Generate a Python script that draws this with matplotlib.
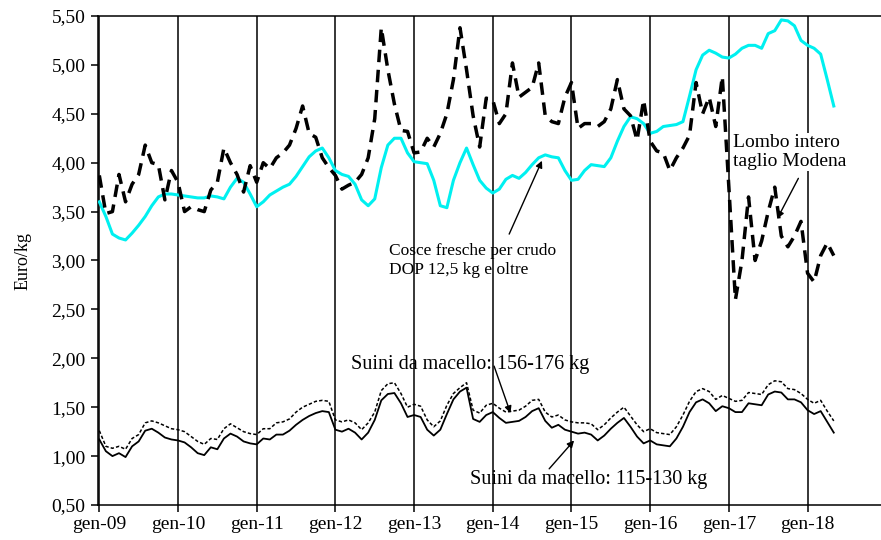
import numpy as np
import matplotlib
matplotlib.use("Agg")
import matplotlib.pyplot as plt
from matplotlib.ticker import FuncFormatter

plt.rcParams['font.family'] = ['Liberation Serif', 'DejaVu Serif']

# monthly prices, gen-09 .. mag-18 (Euro/kg)
lombo = [3.87, 3.48, 3.50, 3.88, 3.60, 3.78, 3.88, 4.18, 4.00, 3.98, 3.62, 3.92,
         3.80, 3.50, 3.55, 3.52, 3.50, 3.72, 3.80, 4.15, 4.00, 3.88, 3.70, 3.97,
         3.80, 4.00, 3.94, 4.05, 4.10, 4.18, 4.35, 4.58, 4.30, 4.26, 4.05, 3.95,
         3.87, 3.73, 3.77, 3.80, 3.88, 4.05, 4.45, 5.38, 4.95, 4.60, 4.33, 4.32,
         4.10, 4.11, 4.25, 4.16, 4.30, 4.50, 4.85, 5.38, 4.95, 4.48, 4.16, 4.66,
         4.64, 4.40, 4.50, 5.02, 4.67, 4.72, 4.77, 5.02, 4.48, 4.42, 4.40, 4.67,
         4.82, 4.35, 4.40, 4.40, 4.37, 4.42, 4.55, 4.85, 4.55, 4.48, 4.23, 4.64,
         4.22, 4.12, 4.10, 3.92, 4.05, 4.15, 4.28, 4.82, 4.50, 4.67, 4.37, 4.88,
         3.75, 2.60, 3.00, 3.65, 3.00, 3.20, 3.50, 3.75, 3.25, 3.14, 3.25, 3.40,
         2.87, 2.78, 3.05, 3.18, 3.05]

cosce = [3.60, 3.45, 3.27, 3.23, 3.21, 3.28, 3.36, 3.45, 3.56, 3.65, 3.68, 3.68,
         3.67, 3.66, 3.65, 3.64, 3.64, 3.66, 3.65, 3.63, 3.75, 3.84, 3.80, 3.68,
         3.55, 3.60, 3.67, 3.71, 3.75, 3.78, 3.86, 3.96, 4.06, 4.12, 4.15, 4.05,
         3.92, 3.88, 3.86, 3.78, 3.62, 3.56, 3.63, 3.95, 4.18, 4.25, 4.25, 4.10,
         4.01, 4.00, 3.99, 3.82, 3.56, 3.54, 3.82, 4.00, 4.15, 3.98, 3.82, 3.74,
         3.69, 3.73, 3.83, 3.87, 3.84, 3.90, 3.98, 4.05, 4.08, 4.06, 4.05, 3.92,
         3.82, 3.83, 3.92, 3.98, 3.97, 3.96, 4.05, 4.22, 4.37, 4.47, 4.45, 4.40,
         4.30, 4.32, 4.37, 4.38, 4.39, 4.42, 4.68, 4.95, 5.10, 5.15, 5.12, 5.08,
         5.07, 5.11, 5.17, 5.20, 5.20, 5.17, 5.32, 5.35, 5.46, 5.45, 5.40, 5.25,
         5.20, 5.17, 5.11, 4.85, 4.58]

suini_156 = [1.26, 1.10, 1.08, 1.10, 1.07, 1.18, 1.22, 1.34, 1.36, 1.34, 1.31, 1.28,
             1.27, 1.25, 1.20, 1.15, 1.12, 1.18, 1.17, 1.28, 1.33, 1.29, 1.25, 1.23,
             1.22, 1.28, 1.28, 1.34, 1.35, 1.38, 1.45, 1.50, 1.53, 1.56, 1.57, 1.56,
             1.37, 1.35, 1.37, 1.34, 1.27, 1.34, 1.45, 1.67, 1.74, 1.75, 1.64, 1.50,
             1.53, 1.51, 1.37, 1.30, 1.36, 1.52, 1.64, 1.70, 1.75, 1.47, 1.44, 1.52,
             1.54, 1.49, 1.45, 1.46, 1.47, 1.51, 1.57, 1.58, 1.45, 1.40, 1.42, 1.37,
             1.35, 1.34, 1.34, 1.33, 1.27, 1.32, 1.39, 1.45, 1.50, 1.41, 1.32, 1.25,
             1.28, 1.24, 1.23, 1.22, 1.30, 1.42, 1.56, 1.66, 1.69, 1.66, 1.58, 1.62,
             1.59, 1.56, 1.57, 1.65, 1.64, 1.63, 1.73, 1.77, 1.76, 1.69, 1.68, 1.64,
             1.58, 1.54, 1.57, 1.46, 1.36]

suini_115 = [1.17, 1.05, 1.00, 1.03, 0.99, 1.10, 1.15, 1.26, 1.28, 1.24, 1.19, 1.17,
             1.16, 1.14, 1.09, 1.03, 1.01, 1.09, 1.07, 1.18, 1.23, 1.20, 1.15, 1.13,
             1.12, 1.18, 1.17, 1.22, 1.22, 1.26, 1.32, 1.37, 1.41, 1.44, 1.46, 1.45,
             1.27, 1.25, 1.28, 1.24, 1.17, 1.24, 1.37, 1.57, 1.635, 1.645, 1.54, 1.40,
             1.42, 1.40, 1.27, 1.21, 1.27, 1.43, 1.58, 1.66, 1.70, 1.38, 1.35, 1.42,
             1.45, 1.39, 1.34, 1.35, 1.36, 1.40, 1.46, 1.49, 1.36, 1.29, 1.32, 1.27,
             1.25, 1.23, 1.24, 1.22, 1.16, 1.21, 1.28, 1.34, 1.39, 1.30, 1.20, 1.13,
             1.16, 1.12, 1.11, 1.10, 1.18, 1.30, 1.45, 1.55, 1.58, 1.54, 1.46, 1.51,
             1.49, 1.45, 1.45, 1.54, 1.53, 1.52, 1.63, 1.66, 1.65, 1.58, 1.58, 1.55,
             1.47, 1.43, 1.46, 1.35, 1.24]

year_labels = ['gen-09', 'gen-10', 'gen-11', 'gen-12', 'gen-13',
               'gen-14', 'gen-15', 'gen-16', 'gen-17', 'gen-18']

months = np.arange(len(cosce))
year_pos = np.arange(len(year_labels)) * 12

fig = plt.figure(figsize=(8.81, 5.40), dpi=100)
ax = fig.add_axes([98 / 881, 35 / 540, 1 - 98 / 881, 489 / 540])

# vertical lines at each January
for xp in year_pos:
    ax.axvline(xp, color='black', lw=1.1, zorder=1)

ax.plot(months, cosce, color='#00F0F0', lw=2.2, zorder=3)
ax.plot(months, lombo, color='black', lw=2.5, dashes=(3.6, 2.2), zorder=4)
ax.plot(months, suini_156, color='black', lw=1.1, dashes=(2.2, 1.4), zorder=4)
ax.plot(months, suini_115, color='black', lw=1.3, zorder=4)

ax.set_xlim(-0.2, 119.2)
ax.set_ylim(0.5, 5.5)
ax.set_yticks(np.arange(0.5, 5.51, 0.5))
ax.yaxis.set_major_formatter(FuncFormatter(lambda v, p: f"{v:.2f}".replace('.', ',')))
ax.set_xticks(year_pos)
ax.set_xticklabels(year_labels)
ax.tick_params(axis='both', direction='out', length=5, width=1.1, labelsize=14, colors='black')
ax.tick_params(axis='y', pad=4)
ax.tick_params(axis='x', pad=3)

for s in ['left', 'bottom', 'top']:
    ax.spines[s].set_linewidth(1.1)
ax.spines['right'].set_visible(False)

ax.set_ylabel('Euro/kg', fontsize=13, labelpad=14)

arrow = dict(arrowstyle='-|>', color='black', lw=1.0, mutation_scale=10,
             shrinkA=0, shrinkB=0)

ax.text(44.2, 3.0, 'Cosce fresche per crudo\nDOP 12,5 kg e oltre',
        fontsize=12.5, ha='left', va='center', linespacing=1.3, zorder=6)
ax.annotate('', xy=(67.5, 4.02), xytext=(62.5, 3.27), arrowprops=arrow, zorder=6)

ax.text(96.6, 4.11, 'Lombo intero\ntaglio Modena', fontsize=14, ha='left', va='center',
        linespacing=1.1, zorder=7,
        bbox=dict(facecolor='white', edgecolor='none', pad=1))
ax.annotate('', xy=(103.4, 3.43), xytext=(106.6, 3.84), arrowprops=arrow, zorder=8)

ax.text(38.4, 1.94, 'Suini da macello: 156-176 kg', fontsize=14.5, ha='left', va='center', zorder=6)
ax.annotate('', xy=(62.7, 1.44), xytext=(60.2, 1.92), arrowprops=arrow, zorder=6)

ax.text(56.5, 0.76, 'Suini da macello: 115-130 kg', fontsize=14.5, ha='left', va='center', zorder=6)
ax.annotate('', xy=(72.4, 1.16), xytext=(68.6, 0.87), arrowprops=arrow, zorder=6)

fig.savefig('out.png', dpi=100)
